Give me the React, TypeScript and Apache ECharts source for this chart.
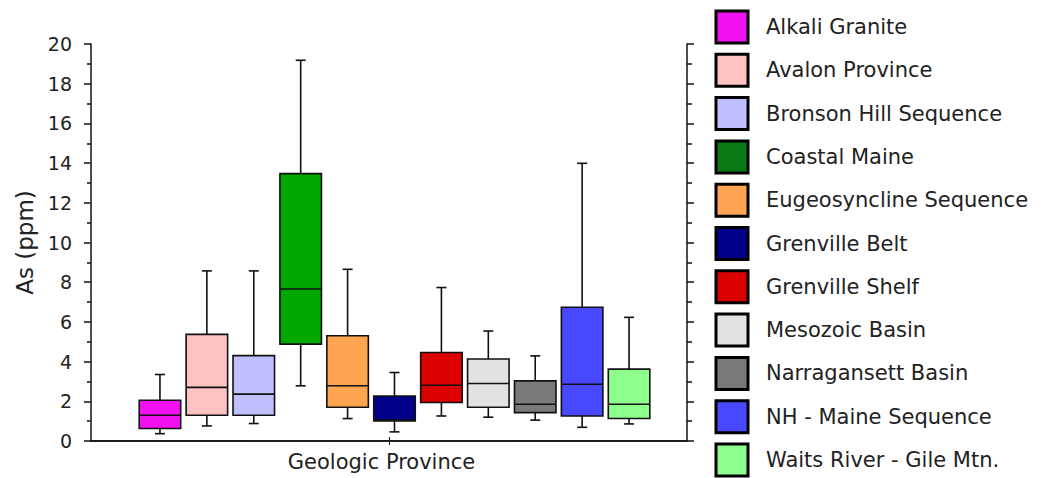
import React, { useEffect, useRef } from "react";
import * as echarts from "echarts";

const provinces = [
  "Alkali Granite",
  "Avalon Province",
  "Bronson Hill Sequence",
  "Coastal Maine",
  "Eugeosyncline Sequence",
  "Grenville Belt",
  "Grenville Shelf",
  "Mesozoic Basin",
  "Narragansett Basin",
  "NH - Maine Sequence",
  "Waits River - Gile Mtn.",
];

const colors = [
  "#f010f0",
  "#ffc2c2",
  "#c0c0ff",
  "#00a800",
  "#ffa552",
  "#00008a",
  "#dd0000",
  "#e2e2e2",
  "#7a7a7a",
  "#4848ff",
  "#8cff8c",
];

const legendColors = [
  "#f010f0",
  "#ffc2c2",
  "#c0c0ff",
  "#0a7a14",
  "#ffa552",
  "#00008a",
  "#dd0000",
  "#e2e2e2",
  "#7a7a7a",
  "#4848ff",
  "#8cff8c",
];

// [min, Q1, median, Q3, max] in ppm
const stats: number[][] = [
  [0.37, 0.63, 1.3, 2.05, 3.35],
  [0.76, 1.3, 2.7, 5.37, 8.57],
  [0.88, 1.3, 2.36, 4.3, 8.57],
  [2.78, 4.88, 7.66, 13.47, 19.18],
  [1.13, 1.7, 2.78, 5.3, 8.65],
  [0.46, 1.01, 1.05, 2.27, 3.45],
  [1.26, 1.94, 2.81, 4.46, 7.73],
  [1.2, 1.7, 2.9, 4.13, 5.54],
  [1.05, 1.43, 1.85, 3.03, 4.29],
  [0.69, 1.26, 2.86, 6.74, 13.99],
  [0.86, 1.13, 1.85, 3.62, 6.23],
];

const xCategory = ["Geologic Province"];
const yTicks = { min: 0, max: 20, interval: 2 };

const FONT = "DejaVu Sans";

export default function App() {
  const ref = useRef<HTMLDivElement>(null);
  useEffect(() => {
    if (!ref.current) return;
    const chart = echarts.init(ref.current, null, { renderer: "svg" });

    const renderItem = (params: any, api: any) => {
      const x = api.value(0);
      const vals = [1, 2, 3, 4, 5].map((d) => api.value(d));
      const band = api.size([1, 0])[0];
      const bw = band * 0.885;
      const pts = vals.map((v: number) => api.coord([x, v]));
      const cx = pts[0][0];
      const line = { stroke: "#111", lineWidth: 1.6 };
      const cap = 5;
      return {
        type: "group",
        children: [
          { type: "line", shape: { x1: cx, y1: pts[4][1], x2: cx, y2: pts[3][1] }, style: line },
          { type: "line", shape: { x1: cx, y1: pts[1][1], x2: cx, y2: pts[0][1] }, style: line },
          { type: "line", shape: { x1: cx - cap, y1: pts[4][1], x2: cx + cap, y2: pts[4][1] }, style: line },
          { type: "line", shape: { x1: cx - cap, y1: pts[0][1], x2: cx + cap, y2: pts[0][1] }, style: line },
          {
            type: "rect",
            shape: { x: cx - bw / 2, y: pts[3][1], width: bw, height: pts[1][1] - pts[3][1] },
            style: { fill: api.visual("color"), stroke: "#111", lineWidth: 1.6 },
          },
          { type: "line", shape: { x1: cx - bw / 2, y1: pts[2][1], x2: cx + bw / 2, y2: pts[2][1] }, style: line },
        ],
      };
    };

    const series: any[] = provinces.map((name, i) => ({
      name,
      type: "custom",
      xAxisIndex: 2,
      yAxisIndex: 2,
      itemStyle: { color: colors[i] },
      encode: { x: 0, y: [1, 2, 3, 4, 5] },
      data: [[i, ...stats[i]]],
      renderItem,
    }));

    const axisLine = { show: true, lineStyle: { color: "#111", width: 1.5 } };

    chart.setOption({
      animation: false,
      backgroundColor: "#fff",
      grid: [
        { left: 91, right: 357, top: 44, bottom: 37 },
        { left: 136.5, right: 391.5, top: 44, bottom: 37 },
      ],
      legend: {
        orient: "vertical",
        left: 714.5,
        top: 9.5,
        bottom: 0,
        padding: 0,
        icon: "rect",
        itemWidth: 32,
        itemHeight: 32,
        itemGap: 8.3,
        itemStyle: { borderColor: "#000", borderWidth: 3 },
        textStyle: { fontFamily: FONT, fontSize: 21, color: "#222", padding: [0, 0, 0, 13] },
        selectedMode: false,
        data: provinces.map((name, i) => ({ name, itemStyle: { color: legendColors[i] } })),
      },
      xAxis: [
        {
          type: "category",
          gridIndex: 0,
          position: "bottom",
          data: xCategory,
          axisLine,
          axisTick: { show: true, alignWithLabel: true, length: 4, lineStyle: { color: "#111" } },
          axisLabel: {
            fontFamily: FONT,
            fontSize: 21,
            color: "#222",
            margin: 10,
            padding: [0, 15, 0, 0],
          },
          splitLine: { show: false },
        },
        {
          type: "category",
          gridIndex: 0,
          position: "top",
          data: xCategory,
          axisLine,
          axisTick: { show: true, alignWithLabel: true, length: 4, lineStyle: { color: "#111" } },
          axisLabel: { show: false },
          splitLine: { show: false },
        },
        {
          type: "category",
          gridIndex: 1,
          data: provinces,
          show: false,
        },
      ],
      yAxis: [
        {
          type: "value",
          gridIndex: 0,
          position: "left",
          ...yTicks,
          name: "As (ppm)",
          nameLocation: "middle",
          nameGap: 55,
          nameTextStyle: { fontFamily: FONT, fontSize: 23, color: "#222" },
          axisLine,
          axisTick: { show: true, length: 7, lineStyle: { color: "#111", width: 1.5 } },
          minorTick: { show: true, splitNumber: 2, length: 4, lineStyle: { color: "#111", width: 1.5 } },
          axisLabel: { fontFamily: FONT, fontSize: 19, color: "#222", margin: 19 },
          splitLine: { show: false },
        },
        {
          type: "value",
          gridIndex: 0,
          position: "right",
          ...yTicks,
          axisLine,
          axisTick: { show: true, length: 7, lineStyle: { color: "#111", width: 1.5 } },
          minorTick: { show: true, splitNumber: 2, length: 5, lineStyle: { color: "#111", width: 1.5 } },
          axisLabel: { show: false },
          splitLine: { show: false },
        },
        {
          type: "value",
          gridIndex: 1,
          ...yTicks,
          show: false,
          splitLine: { show: false },
        },
      ],
      series,
    });
    return () => chart.dispose();
  }, []);
  return (
    <div
      ref={ref}
      style={{ position: "absolute", left: 0, top: 0, width: 1044, height: 478 }}
    />
  );
}
